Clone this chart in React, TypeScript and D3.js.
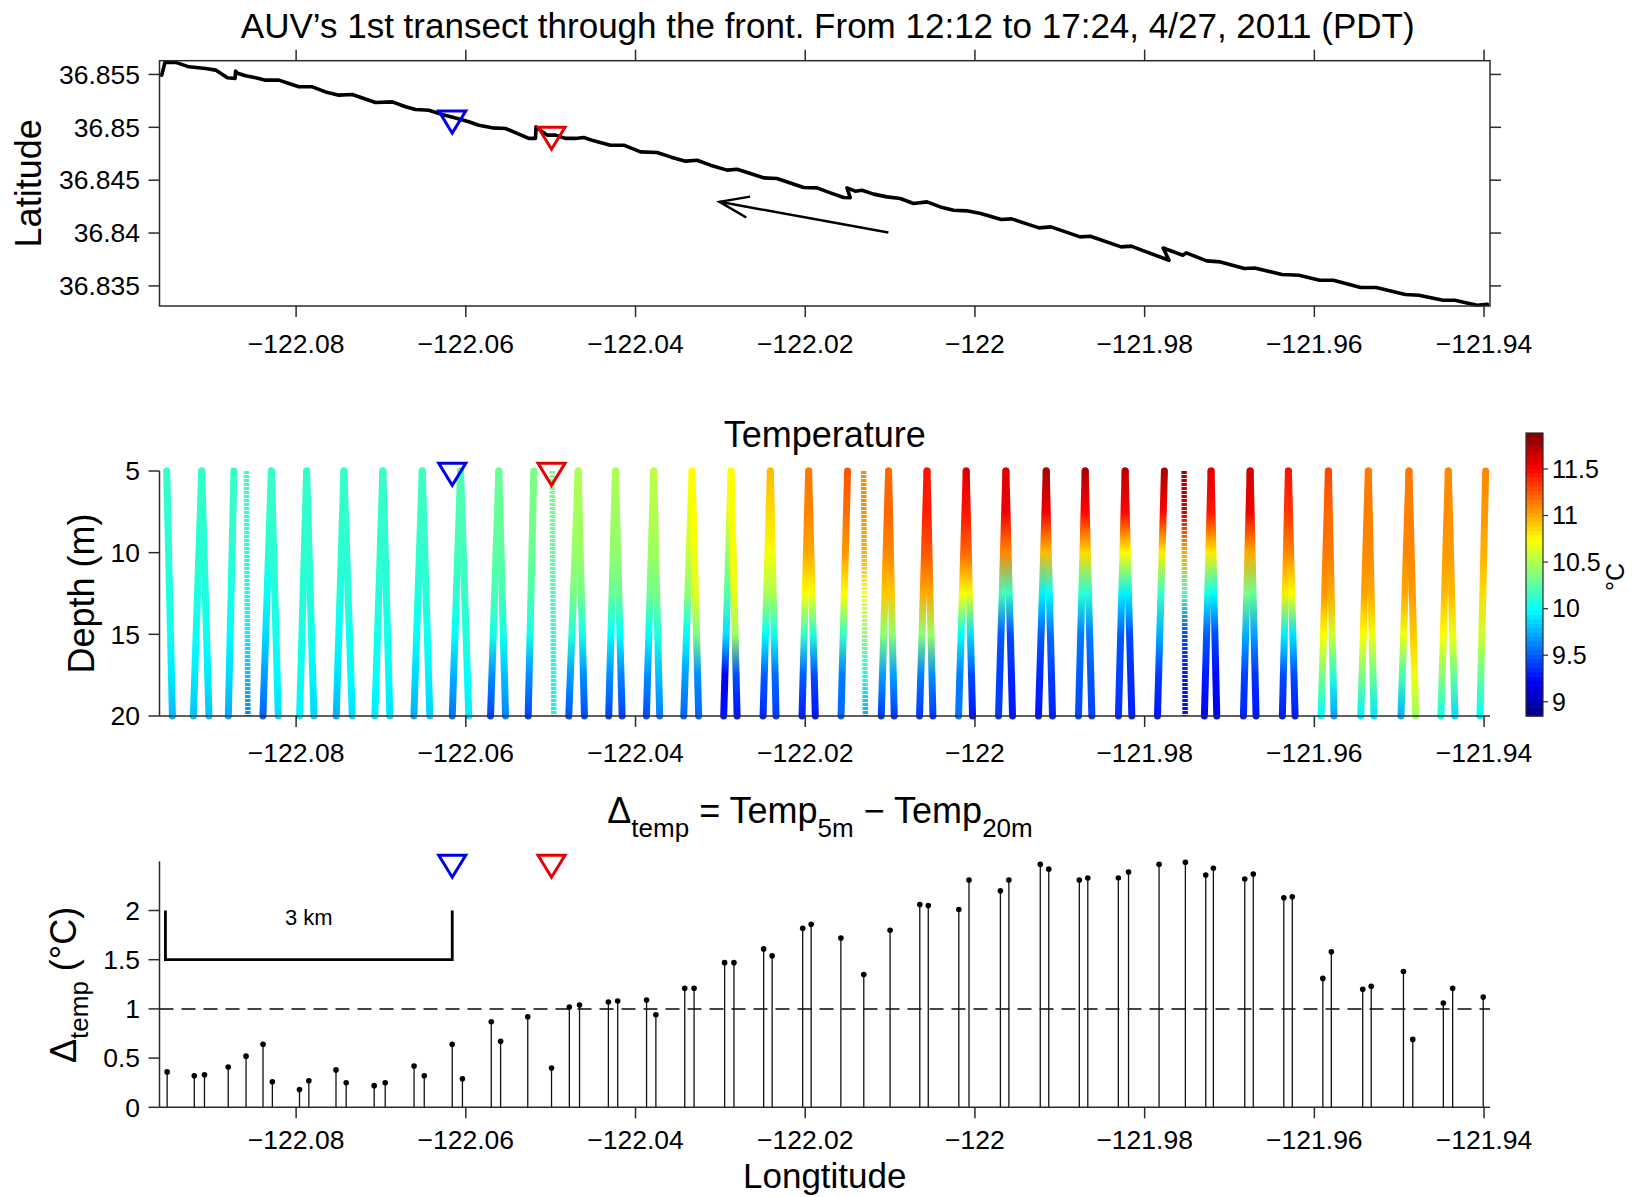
import React from 'react';
import * as d3 from 'd3';

// ---------------- DATA ----------------
const lonTicks = [-122.08, -122.06, -122.04, -122.02, -122.0, -121.98, -121.96, -121.94];
const latTicks = [36.835, 36.84, 36.845, 36.85, 36.855];
const depthTicks = [5, 10, 15, 20];
const tempTicks = [9, 9.5, 10, 10.5, 11, 11.5];
const deltaTicks = [0, 0.5, 1, 1.5, 2];

const titleText = "AUV\u2019s 1st transect through the front. From 12:12 to 17:24, 4/27, 2011 (PDT)";

// AUV track (top panel)
const trackLon = [-122.09584, -122.09545, -122.09419, -122.09263, -122.09066, -122.08948, -122.0881, -122.08719, -122.08713, -122.08689,
  -122.08595, -122.08477, -122.08359, -122.08203, -122.08085, -122.07967, -122.07809, -122.07653, -122.07496, -122.07338,
  -122.07201, -122.07064, -122.06867, -122.0671, -122.06592, -122.06436, -122.06278, -122.06121, -122.05965, -122.05847,
  -122.05689, -122.05532, -122.05395, -122.05258, -122.05179, -122.05173, -122.05108, -122.05041, -122.04943, -122.04826,
  -122.04708, -122.0461, -122.04492, -122.04296, -122.04139, -122.03942, -122.03746, -122.03589, -122.03412, -122.03274,
  -122.03118, -122.02921, -122.02803, -122.02647, -122.0249, -122.02332, -122.02176, -122.02019, -122.01861, -122.01704,
  -122.01548, -122.01469, -122.01508, -122.0141, -122.01331, -122.01194, -122.01037, -122.0088, -122.00723, -122.00565,
  -122.00409, -122.00252, -122.00094, -121.99932, -121.9969, -121.99568, -121.99245, -121.99104, -121.98761, -121.98641,
  -121.98277, -121.98157, -121.98035, -121.97713, -121.97782, -121.97551, -121.97511, -121.97269, -121.97107, -121.96825,
  -121.96704, -121.96382, -121.9618, -121.95938, -121.95776, -121.95454, -121.95272, -121.94929, -121.94768, -121.94484,
  -121.94344, -121.94082, -121.93961];
const trackLat = [36.85493, 36.85614, 36.85614, 36.85572, 36.85557, 36.85541, 36.85468, 36.85462, 36.85531, 36.85512,
  36.85487, 36.85468, 36.85446, 36.85446, 36.85415, 36.85383, 36.85383, 36.85335, 36.85304, 36.85311,
  36.85273, 36.85235, 36.85241, 36.85194, 36.85169, 36.85162, 36.85122, 36.85089, 36.85052, 36.8502,
  36.84995, 36.84989, 36.84942, 36.84895, 36.84895, 36.85004, 36.84964, 36.84926, 36.84926, 36.84895,
  36.84895, 36.84904, 36.84872, 36.84831, 36.84831, 36.84768, 36.84762, 36.8472, 36.8468, 36.84689,
  36.84642, 36.84595, 36.84604, 36.84563, 36.84522, 36.84516, 36.84474, 36.84431, 36.84427, 36.8438,
  36.84336, 36.84334, 36.84427, 36.84396, 36.84405, 36.84368, 36.84342, 36.84327, 36.8428, 36.84295,
  36.84247, 36.84216, 36.8421, 36.84185, 36.84128, 36.84134, 36.84049, 36.84058, 36.83964, 36.8397,
  36.83869, 36.83876, 36.83838, 36.83743, 36.83858, 36.8379, 36.83812, 36.83737, 36.83727, 36.83665,
  36.8367, 36.83608, 36.83601, 36.83554, 36.83554, 36.83485, 36.83485, 36.83419, 36.83412, 36.83365,
  36.83365, 36.83317, 36.83327];

// direction arrow (tail -> head)
const arrowLon = [-122.0102, -122.0301];
const arrowLat = [36.84005, 36.84295];

// front markers
const markerLon = [-122.0616, -122.0499];
const markerLat = [36.8505, 36.84897];
const markerColor = ['#0000e6', '#e60000'];
const markerDepth = 5.2;
const markerDelta = 2.45;

// yo-yo legs (middle panel): lon at 5 m and at 20 m
const legTopLon = [-122.09525, -122.09113, -122.09113, -122.08733, -122.08587, -122.08292, -122.08292, -122.07876, -122.07876, -122.07437,
  -122.07437, -122.06978, -122.06978, -122.06514, -122.06514, -122.06062, -122.06062, -122.05611, -122.05611, -122.05199,
  -122.04982, -122.04676, -122.04676, -122.04237, -122.04237, -122.03786, -122.03786, -122.03333, -122.03333, -122.02874,
  -122.02874, -122.02411, -122.02411, -122.0196, -122.0196, -122.01501, -122.01312, -122.01018, -122.01018, -122.00565,
  -122.00565, -122.00103, -122.00103, -121.99635, -121.99635, -121.9916, -121.9916, -121.98701, -121.98701, -121.9823,
  -121.9823, -121.97767, -121.97535, -121.97217, -121.97217, -121.96757, -121.96757, -121.96306, -121.96306, -121.95835,
  -121.95835, -121.95364, -121.95364, -121.94885, -121.94885, -121.94422, -121.94422, -121.93981];
const legBottomLon = [-122.09458, -122.09211, -122.09027, -122.08799, -122.08568, -122.08391, -122.0821, -122.07959, -122.0779, -122.07527,
  -122.07338, -122.07072, -122.06895, -122.06612, -122.06424, -122.0616, -122.05965, -122.05709, -122.05532, -122.05265,
  -122.04963, -122.04787, -122.04602, -122.04316, -122.04158, -122.03872, -122.03715, -122.03432, -122.03256, -122.02961,
  -122.02803, -122.02497, -122.02344, -122.02038, -122.01881, -122.01578, -122.01292, -122.01104, -122.00951, -122.00653,
  -122.00495, -122.00193, -122.00028, -121.99722, -121.99557, -121.99251, -121.99086, -121.9878, -121.98622, -121.98309,
  -121.98151, -121.97849, -121.97523, -121.97296, -121.9715, -121.96836, -121.96687, -121.96377, -121.96227, -121.95921,
  -121.95768, -121.95453, -121.95297, -121.94979, -121.94806, -121.94508, -121.94343, -121.94048];
const legDotted = [0, 0, 0, 0, 1, 0, 0, 0, 0, 0, 0, 0, 0, 0, 0, 0, 0, 0, 0, 0,
  1, 0, 0, 0, 0, 0, 0, 0, 0, 0, 0, 0, 0, 0, 0, 0, 1, 0, 0, 0,
  0, 0, 0, 0, 0, 0, 0, 0, 0, 0, 0, 0, 1, 0, 0, 0, 0, 0, 0, 0,
  0, 0, 0, 0, 0, 0, 0, 0];
const legDepths = [5, 7.5, 10, 12.5, 15, 17.5, 20];
const legTemps = [
  [10.14, 10.13, 10.11, 10.08, 10.02, 9.92, 9.78],
  [10.14, 10.13, 10.11, 10.08, 10.02, 9.93, 9.82],
  [10.14, 10.13, 10.11, 10.08, 10.02, 9.93, 9.81],
  [10.15, 10.14, 10.11, 10.06, 9.98, 9.88, 9.74],
  [10.16, 10.14, 10.10, 10.04, 9.95, 9.80, 9.64],
  [10.16, 10.14, 10.10, 10.02, 9.88, 9.70, 9.52],
  [10.15, 10.14, 10.12, 10.09, 10.04, 9.97, 9.89],
  [10.14, 10.13, 10.12, 10.10, 10.07, 10.02, 9.96],
  [10.14, 10.13, 10.12, 10.09, 10.04, 9.96, 9.87],
  [10.15, 10.14, 10.12, 10.08, 10.00, 9.90, 9.77],
  [10.15, 10.14, 10.12, 10.09, 10.05, 9.98, 9.90],
  [10.15, 10.14, 10.13, 10.10, 10.06, 10.00, 9.93],
  [10.15, 10.14, 10.12, 10.09, 10.05, 9.98, 9.90],
  [10.17, 10.16, 10.13, 10.08, 10.00, 9.88, 9.75],
  [10.17, 10.16, 10.13, 10.10, 10.04, 9.95, 9.85],
  [10.22, 10.21, 10.18, 10.12, 10.00, 9.75, 9.58],
  [10.22, 10.21, 10.19, 10.15, 10.08, 10.00, 9.93],
  [10.30, 10.29, 10.26, 10.20, 10.05, 9.65, 9.43],
  [10.30, 10.29, 10.26, 10.20, 10.05, 9.80, 9.63],
  [10.35, 10.34, 10.30, 10.22, 10.05, 9.65, 9.43],
  [10.35, 10.33, 10.28, 10.20, 10.10, 10.02, 9.95],
  [10.50, 10.48, 10.44, 10.35, 10.10, 9.70, 9.48],
  [10.50, 10.48, 10.44, 10.33, 10.05, 9.65, 9.46],
  [10.50, 10.47, 10.42, 10.30, 10.00, 9.65, 9.43],
  [10.50, 10.47, 10.42, 10.30, 10.00, 9.62, 9.42],
  [10.55, 10.52, 10.46, 10.32, 10.00, 9.65, 9.46],
  [10.55, 10.52, 10.46, 10.34, 10.08, 9.80, 9.61],
  [10.75, 10.68, 10.58, 10.40, 10.00, 9.70, 9.54],
  [10.75, 10.73, 10.70, 10.65, 10.35, 9.65, 9.54],
  [10.75, 10.65, 10.45, 10.25, 9.90, 9.20, 9.28],
  [10.75, 10.74, 10.72, 10.68, 10.45, 9.45, 9.28],
  [10.95, 10.85, 10.72, 10.50, 10.00, 9.50, 9.34],
  [10.95, 10.85, 10.72, 10.50, 10.05, 9.55, 9.41],
  [11.15, 11.12, 11.00, 10.75, 10.15, 9.50, 9.33],
  [11.15, 11.12, 11.00, 10.72, 10.10, 9.45, 9.29],
  [11.25, 11.18, 11.05, 10.75, 10.15, 9.60, 9.53],
  [11.10, 11.08, 10.98, 10.75, 10.40, 10.05, 9.75],
  [11.20, 11.20, 11.10, 10.90, 10.40, 9.70, 9.40],
  [11.20, 11.20, 11.10, 10.90, 10.40, 9.70, 9.40],
  [11.45, 11.42, 11.25, 11.00, 10.40, 9.60, 9.39],
  [11.45, 11.42, 11.25, 11.00, 10.45, 9.65, 9.40],
  [11.60, 11.45, 11.20, 10.75, 10.00, 9.60, 9.59],
  [11.60, 11.45, 11.20, 10.70, 9.90, 9.45, 9.29],
  [11.60, 11.55, 11.10, 10.20, 9.50, 9.42, 9.40],
  [11.60, 11.55, 11.10, 10.15, 9.45, 9.33, 9.29],
  [11.75, 11.55, 10.95, 9.95, 9.50, 9.35, 9.28],
  [11.75, 11.55, 10.95, 10.00, 9.55, 9.40, 9.33],
  [11.75, 11.50, 10.85, 10.10, 9.60, 9.50, 9.44],
  [11.75, 11.50, 10.85, 10.10, 9.60, 9.48, 9.42],
  [11.70, 11.50, 10.75, 9.95, 9.50, 9.42, 9.37],
  [11.70, 11.50, 10.75, 9.95, 9.45, 9.36, 9.31],
  [11.75, 11.50, 10.80, 10.15, 9.75, 9.40, 9.28],
  [11.75, 11.60, 11.00, 10.20, 9.45, 9.30, 9.26],
  [11.60, 11.45, 10.80, 10.05, 9.50, 9.30, 9.24],
  [11.60, 11.45, 10.80, 10.00, 9.45, 9.25, 9.17],
  [11.65, 11.55, 11.00, 10.35, 9.75, 9.42, 9.33],
  [11.65, 11.55, 11.00, 10.30, 9.70, 9.38, 9.28],
  [11.45, 11.35, 11.10, 10.80, 9.95, 9.45, 9.32],
  [11.45, 11.35, 11.10, 10.75, 9.90, 9.45, 9.31],
  [11.30, 11.20, 11.15, 11.05, 10.75, 10.35, 9.99],
  [11.30, 11.20, 11.15, 11.00, 10.60, 10.10, 9.72],
  [11.15, 11.13, 11.10, 11.02, 10.75, 10.35, 9.95],
  [11.15, 11.13, 11.10, 11.00, 10.70, 10.30, 9.92],
  [11.15, 11.13, 11.10, 11.00, 10.70, 10.20, 9.77],
  [11.15, 11.13, 11.10, 11.05, 10.90, 10.70, 10.46],
  [11.10, 11.08, 11.05, 10.95, 10.75, 10.40, 10.04],
  [11.10, 11.08, 11.05, 10.95, 10.70, 10.30, 9.89],
  [11.10, 11.05, 10.98, 10.85, 10.60, 10.30, 9.98],
];
const tempRange = [8.847, 11.886];

// Delta temp stems (bottom panel)
const stemLon = [-122.0952, -122.0920, -122.0908, -122.0880, -122.0859, -122.0839, -122.0828, -122.0796, -122.0785, -122.0753,
  -122.0741, -122.0708, -122.0695, -122.0661, -122.0649, -122.0616, -122.0604, -122.0570, -122.0559, -122.0527,
  -122.0499, -122.0478, -122.0466, -122.0432, -122.0421, -122.0387, -122.0376, -122.0342, -122.0331, -122.0295,
  -122.0284, -122.0249, -122.0239, -122.0203, -122.0193, -122.0158, -122.0131, -122.0100, -122.0065, -122.0055,
  -122.0019, -122.0007, -121.9970, -121.9960, -121.9923, -121.9913, -121.9877, -121.9867, -121.9831, -121.9819,
  -121.9783, -121.9752, -121.9728, -121.9719, -121.9682, -121.9672, -121.9636, -121.9626, -121.9590, -121.9580,
  -121.9543, -121.9533, -121.9495, -121.9484, -121.9448, -121.9437, -121.9401];
const stemDelta = [0.36, 0.32, 0.33, 0.41, 0.52, 0.64, 0.26, 0.18, 0.27, 0.38,
  0.25, 0.22, 0.25, 0.42, 0.32, 0.64, 0.29, 0.87, 0.67, 0.92,
  0.40, 1.02, 1.04, 1.07, 1.08, 1.09, 0.94, 1.21, 1.21, 1.47,
  1.47, 1.61, 1.54, 1.82, 1.86, 1.72, 1.35, 1.80, 2.06, 2.05,
  2.01, 2.31, 2.20, 2.31, 2.47, 2.42, 2.31, 2.33, 2.33, 2.39,
  2.47, 2.49, 2.36, 2.43, 2.32, 2.37, 2.13, 2.14, 1.31, 1.58,
  1.20, 1.23, 1.38, 0.69, 1.06, 1.21, 1.12];
const thresholdDelta = 1;
const scaleBarLon = [-122.0954, -122.0616];
const scaleBarDelta = [2, 1.5];
const scaleBarLabel = '3 km';

// ---------------- LAYOUT ----------------
const W = 1637, H = 1197;
const X0 = 159.5, X1 = 1490;
const TOP = { t: 60.7, b: 306 };
const MID = { t: 471, b: 716 };
const BOT = { t: 861.3, b: 1107.3 };
const CB = { x: 1526, w: 17, t: 433, b: 716 };
const TICK = 11;
const FONT = '"Liberation Sans", Arial, Helvetica, sans-serif';
const AX = '#2b2b2b';
const TICKFS = 26.5;
const LABFS = 36;

function jet(t: number) {
  const c = (v: number) => Math.max(0, Math.min(1, v));
  t = c(t);
  const r = c(Math.min(4 * t - 1.5, -4 * t + 4.5));
  const g = c(Math.min(4 * t - 0.5, -4 * t + 3.5));
  const b = c(Math.min(4 * t + 0.5, -4 * t + 2.5));
  return `rgb(${Math.round(r * 255)},${Math.round(g * 255)},${Math.round(b * 255)})`;
}

const fmtLon = (v: number) => (v < 0 ? '\u2212' : '') + String(Math.abs(+v.toFixed(2)));
const fmtNum = (v: number) => String(+v.toFixed(3));

function Tri({ cx, cy, color }: { cx: number; cy: number; color: string }) {
  return <path d={`M${cx - 13.5},${cy - 11} L${cx + 13.5},${cy - 11} L${cx},${cy + 11} Z`} fill="none" stroke={color} strokeWidth={3} strokeLinejoin="miter" />;
}

export default function App() {
  const x = d3.scaleLinear().domain([-122.0961, -121.9393]).range([X0, X1]);
  const yLat = d3.scaleLinear().domain([36.8331, 36.8563]).range([TOP.b, TOP.t]);
  const yDep = d3.scaleLinear().domain([5, 20]).range([MID.t, MID.b]);
  const yT = d3.scaleLinear().domain(tempRange).range([CB.b, CB.t]);
  const yD = d3.scaleLinear().domain([0, 2.5]).range([BOT.b, BOT.t]);
  const tNorm = d3.scaleLinear().domain(tempRange).range([0, 1]);
  const color = (T: number) => jet(tNorm(T));

  const trackPath = d3.line<number>().x((_, i) => x(trackLon[i])).y((_, i) => yLat(trackLat[i]))(trackLon.map((_, i) => i)) || '';

  // arrow
  const ax0 = x(arrowLon[0]), ay0 = yLat(arrowLat[0]);
  const ax1 = x(arrowLon[1]), ay1 = yLat(arrowLat[1]);
  const ang = Math.atan2(ay0 - ay1, ax0 - ax1);
  const hl = 31, ha = (20 * Math.PI) / 180;
  const b1 = [ax1 + hl * Math.cos(ang - ha), ay1 + hl * Math.sin(ang - ha)];
  const b2 = [ax1 + hl * Math.cos(ang + ha), ay1 + hl * Math.sin(ang + ha)];

  const nCb = 64;
  const cbBand = (CB.b - CB.t) / nCb;

  const xTicksAt = (y0: number, dir: number) =>
    lonTicks.map((v) => <line key={'xt' + y0 + v} x1={x(v)} x2={x(v)} y1={y0} y2={y0 + dir * TICK} stroke={AX} strokeWidth={1.5} />);
  const xLabelsAt = (yc: number) =>
    lonTicks.map((v) => (
      <text key={'xl' + yc + v} x={x(v)} y={yc} dy="0.35em" textAnchor="middle" fontSize={TICKFS}>{fmtLon(v)}</text>
    ));

  return (
    <svg width={W} height={H} style={{ position: 'absolute', left: 0, top: 0, background: '#fff' }} fontFamily={FONT} fill="#000">
      <defs>
        {legTopLon.map((_, i) => (
          <linearGradient key={i} id={'leg' + i} gradientUnits="userSpaceOnUse" x1={x(legTopLon[i])} y1={yDep(5)} x2={x(legBottomLon[i])} y2={yDep(20)}>
            {legDepths.map((d, k) => (
              <stop key={k} offset={(d - 5) / 15} stopColor={color(legTemps[i][k])} />
            ))}
          </linearGradient>
        ))}
      </defs>

      {/* main title */}
      <text x={(X0 + X1) / 2 + 3} y={38} textAnchor="middle" fontSize={35}>{titleText}</text>

      {/* ---------- TOP PANEL ---------- */}
      <path d={trackPath} fill="none" stroke="#000" strokeWidth={3.6} strokeLinejoin="round" strokeLinecap="round" />
      <line x1={ax0} y1={ay0} x2={ax1} y2={ay1} stroke="#000" strokeWidth={2.5} />
      <polyline points={`${b1[0]},${b1[1]} ${ax1},${ay1} ${b2[0]},${b2[1]}`} fill="none" stroke="#000" strokeWidth={2.5} />
      {markerLon.map((v, i) => <Tri key={'mt' + i} cx={x(v)} cy={yLat(markerLat[i])} color={markerColor[i]} />)}
      <rect x={X0} y={TOP.t} width={X1 - X0} height={TOP.b - TOP.t} fill="none" stroke={AX} strokeWidth={1.5} />
      {xTicksAt(TOP.b, 1)}
      {xTicksAt(TOP.t, -1)}
      {latTicks.map((v) => (
        <g key={'lat' + v}>
          <line x1={X0} x2={X0 - TICK} y1={yLat(v)} y2={yLat(v)} stroke={AX} strokeWidth={1.5} />
          <line x1={X1} x2={X1 + TICK} y1={yLat(v)} y2={yLat(v)} stroke={AX} strokeWidth={1.5} />
          <text x={140} y={yLat(v)} dy="0.35em" textAnchor="end" fontSize={TICKFS}>{fmtNum(v)}</text>
        </g>
      ))}
      {xLabelsAt(343.5)}
      <text transform={`translate(28,${(TOP.t + TOP.b) / 2}) rotate(-90)`} dy="0.35em" textAnchor="middle" fontSize={LABFS}>Latitude</text>

      {/* ---------- MIDDLE PANEL ---------- */}
      <text x={(X0 + X1) / 2} y={447} textAnchor="middle" fontSize={LABFS}>Temperature</text>
      {legTopLon.map((_, i) =>
        legDotted[i] ? (
          <line key={'lg' + i} x1={x(legTopLon[i])} y1={yDep(5)} x2={x(legBottomLon[i])} y2={yDep(20)} stroke={`url(#leg${i})`} strokeWidth={5.5} strokeDasharray="3 1" />
        ) : (
          <line key={'lg' + i} x1={x(legTopLon[i])} y1={yDep(5)} x2={x(legBottomLon[i])} y2={yDep(20)} stroke={`url(#leg${i})`} strokeWidth={7} strokeLinecap="round" />
        )
      )}
      {markerLon.map((v, i) => <Tri key={'mm' + i} cx={x(v)} cy={yDep(markerDepth)} color={markerColor[i]} />)}
      <line x1={X0} x2={X0} y1={MID.t} y2={MID.b} stroke={AX} strokeWidth={1.5} />
      <line x1={X0} x2={X1} y1={MID.b} y2={MID.b} stroke={AX} strokeWidth={1.5} />
      {xTicksAt(MID.b, 1)}
      {depthTicks.map((v) => (
        <g key={'dep' + v}>
          <line x1={X0} x2={X0 - TICK} y1={yDep(v)} y2={yDep(v)} stroke={AX} strokeWidth={1.5} />
          <text x={140} y={yDep(v)} dy="0.35em" textAnchor="end" fontSize={TICKFS}>{v}</text>
        </g>
      ))}
      {xLabelsAt(753)}
      <text transform={`translate(81,${(MID.t + MID.b) / 2}) rotate(-90)`} dy="0.35em" textAnchor="middle" fontSize={LABFS}>Depth (m)</text>

      {/* colorbar */}
      {d3.range(nCb).map((k) => (
        <rect key={'cb' + k} x={CB.x} y={CB.b - (k + 1) * cbBand} width={CB.w} height={cbBand + 0.6} fill={jet((k + 0.5) / nCb)} />
      ))}
      <rect x={CB.x} y={CB.t} width={CB.w} height={CB.b - CB.t} fill="none" stroke={AX} strokeWidth={1.2} />
      {tempTicks.map((v) => (
        <g key={'cbt' + v}>
          <line x1={CB.x + CB.w} x2={CB.x + CB.w + 5} y1={yT(v)} y2={yT(v)} stroke={AX} strokeWidth={1.2} />
          <text x={1552} y={yT(v)} dy="0.35em" fontSize={25}>{v}</text>
        </g>
      ))}
      <text transform={`translate(1615,577) rotate(-90)`} dy="0.35em" textAnchor="middle" fontSize={25}>°C</text>

      {/* ---------- BOTTOM PANEL ---------- */}
      <text x={820} y={823} textAnchor="middle" fontSize={LABFS}>
        <tspan>Δ</tspan>
        <tspan fontSize={26} dy={14}>temp</tspan>
        <tspan dy={-14}>{' = Temp'}</tspan>
        <tspan fontSize={26} dy={14}>5m</tspan>
        <tspan dy={-14}>{' \u2212 Temp'}</tspan>
        <tspan fontSize={26} dy={14}>20m</tspan>
      </text>
      <line x1={X0} x2={X1} y1={yD(thresholdDelta)} y2={yD(thresholdDelta)} stroke="#444" strokeWidth={2} strokeDasharray="14 8" />
      {stemLon.map((v, i) => (
        <g key={'st' + i}>
          <line x1={x(v)} x2={x(v)} y1={yD(0)} y2={yD(stemDelta[i])} stroke="#111" strokeWidth={1.3} />
          <circle cx={x(v)} cy={yD(stemDelta[i])} r={2.8} fill="#000" />
        </g>
      ))}
      <polyline
        points={`${x(scaleBarLon[0])},${yD(scaleBarDelta[0])} ${x(scaleBarLon[0])},${yD(scaleBarDelta[1])} ${x(scaleBarLon[1])},${yD(scaleBarDelta[1])} ${x(scaleBarLon[1])},${yD(scaleBarDelta[0])}`}
        fill="none" stroke="#000" strokeWidth={2.8} />
      <text x={(x(scaleBarLon[0]) + x(scaleBarLon[1])) / 2} y={925} textAnchor="middle" fontSize={22}>{scaleBarLabel}</text>
      {markerLon.map((v, i) => <Tri key={'mb' + i} cx={x(v)} cy={yD(markerDelta)} color={markerColor[i]} />)}
      <line x1={X0} x2={X0} y1={BOT.t} y2={BOT.b} stroke={AX} strokeWidth={1.5} />
      <line x1={X0} x2={X1} y1={BOT.b} y2={BOT.b} stroke={AX} strokeWidth={1.5} />
      {xTicksAt(BOT.b, 1)}
      {deltaTicks.map((v) => (
        <g key={'dt' + v}>
          <line x1={X0} x2={X0 - TICK} y1={yD(v)} y2={yD(v)} stroke={AX} strokeWidth={1.5} />
          <text x={140} y={yD(v)} dy="0.35em" textAnchor="end" fontSize={TICKFS}>{fmtNum(v)}</text>
        </g>
      ))}
      {xLabelsAt(1140)}
      <text x={(X0 + X1) / 2} y={1188} textAnchor="middle" fontSize={35}>Longtitude</text>
      <text transform={`translate(76,1063) rotate(-90)`} fontSize={LABFS}>
        <tspan>Δ</tspan>
        <tspan fontSize={26} dy={12}>temp</tspan>
        <tspan dy={-12}>{' (°C)'}</tspan>
      </text>
    </svg>
  );
}
